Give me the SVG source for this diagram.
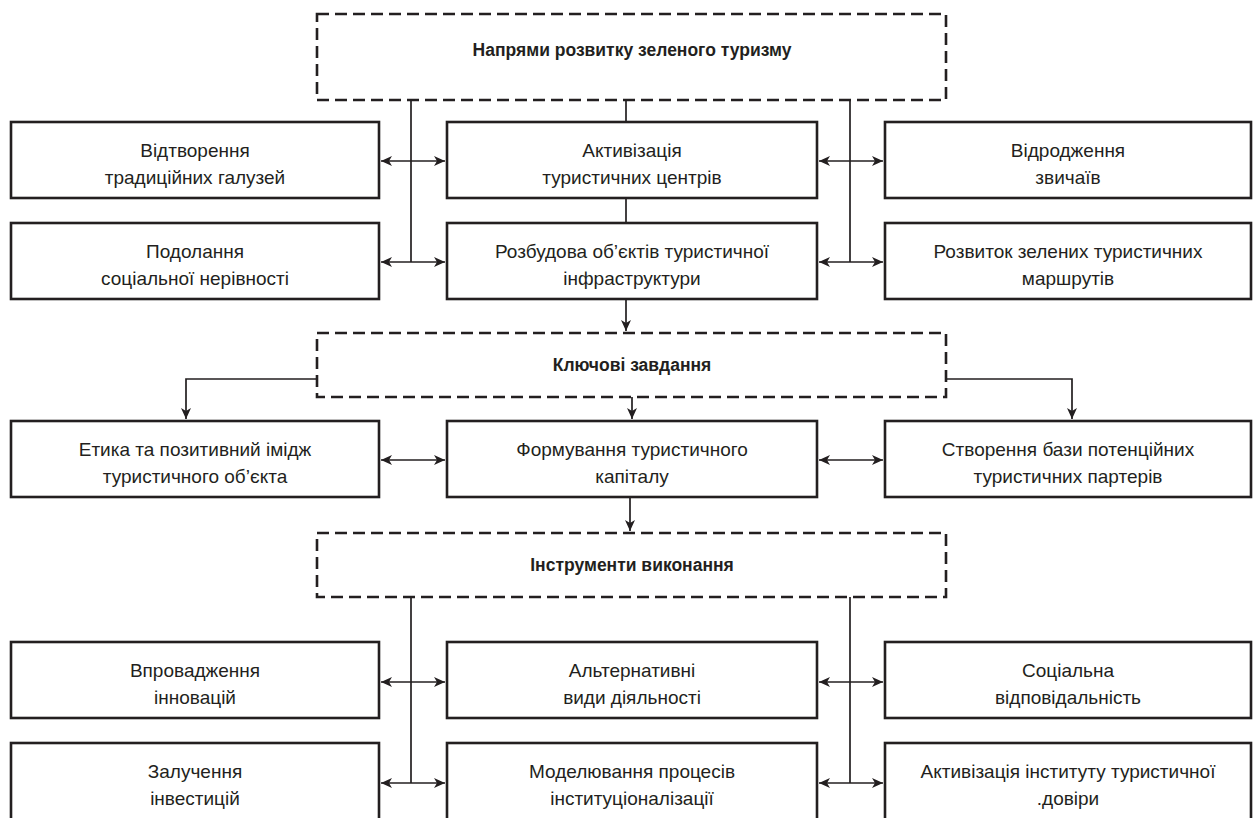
<svg xmlns="http://www.w3.org/2000/svg" width="1253" height="818" viewBox="0 0 1253 818">
<style>
.box{fill:#fff;stroke:#231f20;stroke-width:2.6}
.dash{fill:#fff;stroke:#231f20;stroke-width:2.6;stroke-dasharray:12 6}
.t{font-family:"Liberation Sans",Arial,sans-serif;font-size:19px;fill:#231f20;text-anchor:middle}
.h{font-family:"Liberation Sans",Arial,sans-serif;font-size:17.5px;font-weight:bold;fill:#231f20;text-anchor:middle}
.c{fill:none;stroke:#231f20;stroke-width:1.7}
.a{marker-end:url(#ah)}
.d{marker-start:url(#ah);marker-end:url(#ah)}
</style>
<defs>
<marker id="ah" markerUnits="userSpaceOnUse" markerWidth="12" markerHeight="11" refX="11" refY="5.5" orient="auto-start-reverse">
<path d="M0,0.5 L11,5.5 L0,10.5 L3,5.5 Z" fill="#231f20"/>
</marker>
</defs>
<g id="connectors">
<path class="c" d="M411,100 V262"/>
<path class="c" d="M626,100 V122"/>
<path class="c" d="M626,198 V223"/>
<path class="c" d="M850,100 V262"/>
<path class="c d" d="M381,161 H445"/>
<path class="c d" d="M819,161 H883"/>
<path class="c d" d="M381,262 H445"/>
<path class="c d" d="M819,262 H883"/>
<path class="c a" d="M626,299 V331"/>
<path class="c a" d="M317,379 H186 V419"/>
<path class="c a" d="M946,379 H1072 V419"/>
<path class="c a" d="M632,397 V419"/>
<path class="c d" d="M381,460 H445"/>
<path class="c d" d="M819,460 H883"/>
<path class="c a" d="M630,497 V531"/>
<path class="c" d="M411,597 V783"/>
<path class="c" d="M850,597 V783"/>
<path class="c d" d="M381,682 H445"/>
<path class="c d" d="M819,682 H883"/>
<path class="c d" d="M381,783 H445"/>
<path class="c d" d="M819,783 H883"/>
</g>
<g id="d1"><rect class="dash" x="317" y="14" width="629" height="86"/><text class="h" x="632" y="56">Напрями розвитку зеленого туризму</text></g>
<g id="n1"><rect class="box" x="11" y="122" width="368" height="76"/><text class="t" x="195" y="157">Відтворення</text><text class="t" x="195" y="184">традиційних галузей</text></g>
<g id="n2"><rect class="box" x="447" y="122" width="370" height="76"/><text class="t" x="632" y="157">Активізація</text><text class="t" x="632" y="184">туристичних центрів</text></g>
<g id="n3"><rect class="box" x="885" y="122" width="366" height="76"/><text class="t" x="1068" y="157">Відродження</text><text class="t" x="1068" y="184">звичаїв</text></g>
<g id="n4"><rect class="box" x="11" y="223" width="368" height="76"/><text class="t" x="195" y="258">Подолання</text><text class="t" x="195" y="285">соціальної нерівності</text></g>
<g id="n5"><rect class="box" x="447" y="223" width="370" height="76"/><text class="t" x="632" y="258">Розбудова об’єктів туристичної</text><text class="t" x="632" y="285">інфраструктури</text></g>
<g id="n6"><rect class="box" x="885" y="223" width="366" height="76"/><text class="t" x="1068" y="258">Розвиток зелених туристичних</text><text class="t" x="1068" y="285">маршрутів</text></g>
<g id="d2"><rect class="dash" x="317" y="333" width="629" height="64"/><text class="h" x="632" y="371">Ключові завдання</text></g>
<g id="n7"><rect class="box" x="11" y="421" width="368" height="76"/><text class="t" x="195" y="456">Етика та позитивний імідж</text><text class="t" x="195" y="483">туристичного об’єкта</text></g>
<g id="n8"><rect class="box" x="447" y="421" width="370" height="76"/><text class="t" x="632" y="456">Формування туристичного</text><text class="t" x="632" y="483">капіталу</text></g>
<g id="n9"><rect class="box" x="885" y="421" width="366" height="76"/><text class="t" x="1068" y="456">Створення бази потенційних</text><text class="t" x="1068" y="483">туристичних партерів</text></g>
<g id="d3"><rect class="dash" x="317" y="533" width="629" height="64"/><text class="h" x="632" y="571">Інструменти виконання</text></g>
<g id="n10"><rect class="box" x="11" y="642" width="368" height="76"/><text class="t" x="195" y="677">Впровадження</text><text class="t" x="195" y="704">інновацій</text></g>
<g id="n11"><rect class="box" x="447" y="642" width="370" height="76"/><text class="t" x="632" y="677">Альтернативні</text><text class="t" x="632" y="704">види діяльності</text></g>
<g id="n12"><rect class="box" x="885" y="642" width="366" height="76"/><text class="t" x="1068" y="677">Соціальна</text><text class="t" x="1068" y="704">відповідальність</text></g>
<g id="n13"><rect class="box" x="11" y="743" width="368" height="90"/><text class="t" x="195" y="778">Залучення</text><text class="t" x="195" y="805">інвестицій</text></g>
<g id="n14"><rect class="box" x="447" y="743" width="370" height="90"/><text class="t" x="632" y="778">Моделювання процесів</text><text class="t" x="632" y="805">інституціоналізації</text></g>
<g id="n15"><rect class="box" x="885" y="743" width="366" height="90"/><text class="t" x="1068" y="778">Активізація інституту туристичної</text><text class="t" x="1068" y="805">.довіри</text></g>
</svg>
